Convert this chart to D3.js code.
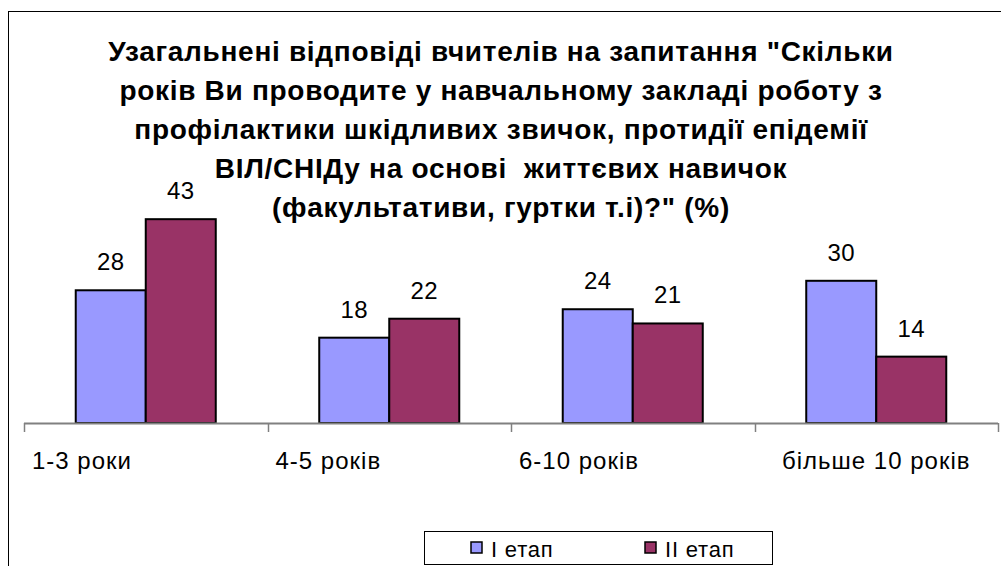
<!DOCTYPE html>
<html>
<head>
<meta charset="utf-8">
<script src="https://cdn.jsdelivr.net/npm/d3@7"></script>
<style>
	body { margin: 0; background: #fff; }
	svg { display: block; font-family: "Liberation Sans", Arial, sans-serif; }
</style>
</head>
<body>
<div id="my_dataviz"></div>
<script>
// data
var categories = ["1-3 роки", "4-5 років", "6-10 років", "більше 10 років"];
var seriesNames = ["I етап", "II етап"];
var stage1 = [28, 18, 24, 30];
var stage2 = [43, 22, 21, 14];
var titleLines = [
	"Узагальнені відповіді вчителів на запитання \"Скільки",
	"років Ви проводите у навчальному закладі роботу з",
	"профілактики шкідливих звичок, протидії епідемії",
	"ВІЛ/СНІДу на основі  життєвих навичок",
	"(факультативи, гуртки т.і)?\" (%)"
];

var svgWidth = 1001, svgHeight = 566;
var colors = ["#9999ff", "#993366"];

var svg = d3.select("#my_dataviz")
	.append("svg")
		.attr("width", svgWidth)
		.attr("height", svgHeight);

// outer frame (right and bottom edges fall outside the picture)
svg.append("rect")
	.attr("x", 8.5)
	.attr("y", 11.5)
	.attr("width", 1010)
	.attr("height", 600)
	.attr("fill", "#fff")
	.attr("stroke", "#000")
	.attr("stroke-width", 1);

// title
svg.append("g")
	.selectAll("text")
	.data(titleLines)
	.enter()
	.append("text")
		.attr("x", 501)
		.attr("y", function(d, i) { return 61 + i * 39; })
		.attr("text-anchor", "middle")
		.style("font-size", "28px")
		.style("font-weight", "bold")
		.style("letter-spacing", "0.7px")
		.style("white-space", "pre")
		.text(function(d) { return d; });

// scales
var baseY = 423;
var x0 = d3.scaleBand()
	.domain(categories)
	.range([24, 998]);

var x1 = d3.scaleBand()
	.domain(seriesNames)
	.range([0, x0.bandwidth()])
	.paddingOuter(0.739);

var y = d3.scaleLinear()
	.domain([0, 50])
	.range([baseY, baseY - 237]);

var rows = categories.map(function(c, i) {
	return {cat: c, values: [
		{name: seriesNames[0], value: stage1[i], idx: 0},
		{name: seriesNames[1], value: stage2[i], idx: 1}
	]};
});

// bars
var groups = svg.selectAll("g.cat")
	.data(rows)
	.enter()
	.append("g")
		.attr("class", "cat")
		.attr("transform", function(d) { return "translate(" + x0(d.cat) + ",0)"; });

groups.selectAll("rect")
	.data(function(d) { return d.values; })
	.enter()
	.append("rect")
		.attr("x", function(d) { return x1(d.name); })
		.attr("y", function(d) { return y(d.value); })
		.attr("width", x1.bandwidth())
		.attr("height", function(d) { return baseY - y(d.value); })
		.attr("fill", function(d) { return colors[d.idx]; })
		.attr("stroke", "#000")
		.attr("stroke-width", 2);

// value labels
groups.selectAll("text.val")
	.data(function(d) { return d.values; })
	.enter()
	.append("text")
		.attr("class", "val")
		.attr("x", function(d) { return x1(d.name) + x1.bandwidth() / 2; })
		.attr("y", function(d) { return y(d.value) - 20; })
		.attr("text-anchor", "middle")
		.style("font-size", "24px")
		.style("letter-spacing", "0.5px")
		.text(function(d) { return d.value; });

// category axis
var axis = svg.append("g")
	.attr("transform", "translate(0," + baseY + ")");

axis.append("line")
	.attr("x1", 24).attr("x2", 998)
	.attr("y1", 0.5).attr("y2", 0.5)
	.attr("stroke", "#808080")
	.attr("stroke-width", 2);

var tickPos = categories.map(function(c) { return x0(c); }).concat([998]);
axis.selectAll("line.tick")
	.data(tickPos)
	.enter()
	.append("line")
		.attr("class", "tick")
		.attr("x1", function(d) { return Math.round(d) + 0.5; })
		.attr("x2", function(d) { return Math.round(d) + 0.5; })
		.attr("y1", 0)
		.attr("y2", 9)
		.attr("stroke", "#808080")
		.attr("stroke-width", 1.5);

axis.selectAll("text")
	.data(categories)
	.enter()
	.append("text")
		.attr("x", function(d, i) {
			return i === categories.length - 1 ? x0(d) + x0.bandwidth() / 2 : x0(d) + 8;
		})
		.attr("y", 46)
		.attr("text-anchor", function(d, i) { return i === categories.length - 1 ? "middle" : "start"; })
		.style("font-size", "24px")
		.style("letter-spacing", "1px")
		.text(function(d) { return d; });

// legend
var legend = svg.append("g");
legend.append("rect")
	.attr("x", 424.5)
	.attr("y", 531.5)
	.attr("width", 348)
	.attr("height", 33)
	.attr("fill", "#fff")
	.attr("stroke", "#000")
	.attr("stroke-width", 1);

var legendX = [471, 645];
var items = legend.selectAll("g.item")
	.data(seriesNames)
	.enter()
	.append("g")
		.attr("class", "item")
		.attr("transform", function(d, i) { return "translate(" + legendX[i] + ",542)"; });

items.append("rect")
	.attr("width", 11)
	.attr("height", 11)
	.attr("fill", function(d, i) { return colors[i]; })
	.attr("stroke", "#000")
	.attr("stroke-width", 1.5);

items.append("text")
	.attr("x", 20)
	.attr("y", 15)
	.style("font-size", "22px")
	.style("letter-spacing", "0.8px")
	.text(function(d) { return d; });
</script>
</body>
</html>
